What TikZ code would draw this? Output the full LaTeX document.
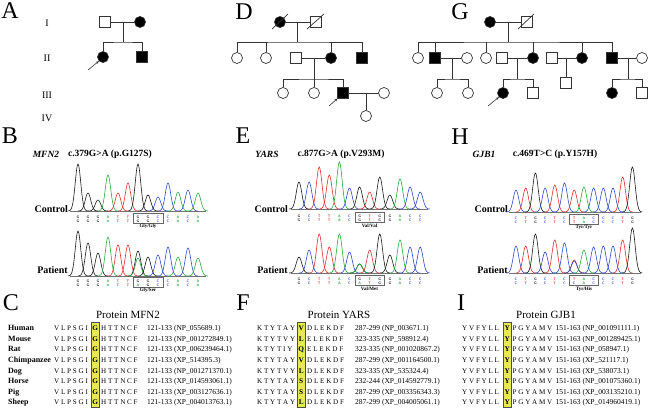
\documentclass[tikz,border=0pt]{standalone}
\usepackage{fontspec}
\setmainfont{Liberation Serif}
\usetikzlibrary{arrows.meta}
\definecolor{bG}{RGB}{25,25,25}
\definecolor{bA}{RGB}{40,170,60}
\definecolor{bT}{RGB}{225,45,45}
\definecolor{bC}{RGB}{45,75,200}
\definecolor{hl}{RGB}{232,232,85}
\tikzset{
 ped/.style={line width=0.7pt, draw=black!80},
 pm/.style={rectangle, draw=black!80, line width=0.7pt, minimum size=10.5pt, inner sep=0pt, fill=white},
 pf/.style={circle, draw=black!80, line width=0.7pt, minimum size=11pt, inner sep=0pt, fill=white},
 aff/.style={fill=black},
 plabel/.style={font=\fontsize{24}{24}\selectfont, inner sep=0pt},
 gen/.style={font=\fontsize{10}{10}\selectfont, inner sep=0pt},
 gname/.style={font=\fontsize{9.5}{10}\selectfont\bfseries\itshape, inner sep=0pt},
 mut/.style={font=\fontsize{9.5}{10}\selectfont\bfseries, inner sep=0pt},
 smp/.style={font=\fontsize{10}{10}\selectfont\bfseries, inner sep=0pt, anchor=east},
 trc/.style={line width=0.6pt, smooth, samples=27},
 bl/.style={font=\fontsize{3.6}{4}\sffamily\bfseries\selectfont, inner sep=0pt},
 aa/.style={font=\fontsize{5}{5}\selectfont\bfseries, inner sep=0pt},
 cbox/.style={draw=black!60, line width=0.5pt},
 prot/.style={font=\fontsize{11}{11}\selectfont, inner sep=0pt},
 spn/.style={font=\fontsize{8}{8}\selectfont\bfseries, inner sep=0pt, anchor=base west},
 sq/.style={font=\fontsize{7.1}{8}\selectfont, inner sep=0pt, anchor=base west},
 hlc/.style={font=\fontsize{7.3}{8}\selectfont\bfseries, inner sep=0pt, anchor=base},
 rng/.style={font=\fontsize{7.5}{8}\selectfont, inner sep=0pt, anchor=base west},
 hlbox/.style={fill=hl, draw=black!70, line width=0.5pt},
 parrow/.style={line width=0.6pt, draw=black!80, -{Stealth[length=3pt,width=2.6pt]}},
 baseln/.style={line width=0.5pt, draw=black!55},
}
\newcommand{\chromtrace}[4]{%
 \foreach \b/\i/\h in {#4}{\pgfmathsetmacro\px{#1+#2*\i}%
  \draw[trc,color=b\b] plot[domain=\px-10:\px+10] (\x,{#3-\h*exp(-((\x-\px)^2)/15)});}}
\newcommand{\baserow}[5]{%
 \foreach \b [count=\i from 0] in {#5}{\pgfmathsetmacro\px{#2+#3*\i}%
  \node[bl,text=b\b] (#1\i) at (\px,#4) {\b};}}
\begin{document}
\begin{tikzpicture}[x=1pt,y=-1pt]
\useasboundingbox (0,0) rectangle (650,415);
\fill[white] (0,0) rectangle (650,415);
% ---------- panel letters
\node[plabel] (LA) at (10,11) {A};
\node[plabel] (LD) at (244,12) {D};
\node[plabel] (LG) at (460,12) {G};
\node[plabel] (LB) at (10,136) {B};
\node[plabel] (LE) at (243,136) {E};
\node[plabel] (LH) at (460,137) {H};
\node[plabel] (LC) at (11,303) {C};
\node[plabel] (LF) at (243,303) {F};
\node[plabel] (LI) at (461,303) {I};
% generations
\node[gen] (g1l) at (47,23) {I};
\node[gen] (g2l) at (47,58) {II};
\node[gen] (g3l) at (47,95) {III};
\node[gen] (g4l) at (47,118) {IV};
% ---------- pedigree A
\node[pm] (a1) at (105,22) {};
\node[pf,aff] (a2) at (140,22) {};
\draw[ped] (a1) -- (a2);
\coordinate (am) at (123,22); \coordinate (as) at (123,42);
\draw[ped] (am) -- (as);
\node[pf,aff] (a3) at (103,57) {};
\node[pm,aff] (a4) at (142,57) {};
\draw[ped] (a3) |- (as) -| (a4);
\coordinate (aar) at (88,70);
\draw[parrow] (aar) -- (a3.south west);
% ---------- pedigree D
\node[pf,aff] (d1) at (280,22) {};
\node[pm] (d2) at (316,22) {};
\draw[ped] (d1) -- (d2);
\draw[ped] ([shift={(-8,7)}]d1.center) -- ([shift={(8,-8)}]d1.center);
\draw[ped] ([shift={(-9,7)}]d2.center) -- ([shift={(8,-8)}]d2.center);
\coordinate (dm1) at (297,22); \coordinate (ds1) at (297,42);
\draw[ped] (dm1) -- (ds1);
\node[pf] (d3) at (237,58) {};
\node[pf] (d4) at (266,58) {};
\node[pm] (d5) at (296,58) {};
\node[pf,aff] (d6) at (331,58) {};
\node[pm,aff] (d7) at (362,58) {};
\draw[ped] (d3) |- (ds1) -| (d7);
\draw[ped] (d4) -- (d4 |- ds1);
\draw[ped] (d6) -- (d6 |- ds1);
\draw[ped] (d5) -- (d6);
\coordinate (dm2) at (314,58); \coordinate (ds2) at (314,79);
\draw[ped] (dm2) -- (ds2);
\node[pf] (d8) at (283,93) {};
\node[pf] (d9) at (314,93) {};
\node[pm,aff] (d10) at (343,93) {};
\node[pf] (d11) at (384,93) {};
\draw[ped] (d8) |- (ds2) -| (d10);
\draw[ped] (d9) -- (ds2);
\draw[ped] (d10) -- (d11);
\coordinate (dm3) at (366,93);
\node[pf] (d12) at (366,116) {};
\draw[ped] (dm3) -- (d12);
\coordinate (dar) at (329,106);
\draw[parrow] (dar) -- (d10.south west);
% ---------- pedigree G
\node[pf,aff] (p1) at (490,22) {};
\node[pm] (p2) at (527,22) {};
\draw[ped] (p1) -- (p2);
\draw[ped] ([shift={(-9,7)}]p2.center) -- ([shift={(7,-8)}]p2.center);
\coordinate (gm1) at (508,22); \coordinate (gs1) at (508,42);
\draw[ped] (gm1) -- (gs1);
\node[pf] (p3) at (418,58) {};
\node[pm,aff] (p4) at (435,58) {};
\node[pf] (p5) at (467,58) {};
\node[pf] (p6) at (486,58) {};
\node[pm] (p7) at (502,58) {};
\node[pf,aff] (p8) at (533,58) {};
\node[pm] (p9) at (552,58) {};
\node[pf,aff] (p10) at (582,58) {};
\node[pm,aff] (p11) at (612,58) {};
\node[pf] (p12) at (642,58) {};
\draw[ped] (p3) |- (gs1) -| (p11);
\foreach \n in {p4,p6,p8,p10} \draw[ped] (\n) -- (\n |- gs1);
\draw[ped] (p4) -- (p5);
\draw[ped] (p7) -- (p8);
\draw[ped] (p9) -- (p10);
\draw[ped] (p11) -- (p12);
\coordinate (gm2) at (452,58); \coordinate (gs2) at (452,79);
\draw[ped] (gm2) -- (gs2);
\node[pf] (p13) at (437,93) {};
\node[pf] (p14) at (468,93) {};
\draw[ped] (p13) |- (gs2) -| (p14);
\coordinate (gm3) at (517,58); \coordinate (gs3) at (517,79);
\draw[ped] (gm3) -- (gs3);
\node[pf,aff] (p15) at (503,93) {};
\node[pm] (p16) at (533,93) {};
\draw[ped] (p15) |- (gs3) -| (p16);
\coordinate (gm4) at (566,58);
\node[pm] (p17) at (566,83) {};
\draw[ped] (gm4) -- (p17);
\coordinate (gm5) at (628,58); \coordinate (gs5) at (628,79);
\draw[ped] (gm5) -- (gs5);
\node[pf,aff] (p18) at (612,93) {};
\node[pm] (p19) at (642,93) {};
\draw[ped] (p18) |- (gs5) -| (p19);
\coordinate (gar) at (488,106);
\draw[parrow] (gar) -- (p15.south west);
% ---------- titles B E H
\node[gname] (tB1) at (46,154) {MFN2};
\node[mut] (tB2) at (110,154) {c.379G>A (p.G127S)};
\node[gname] (tE1) at (267,154) {YARS};
\node[mut] (tE2) at (341,154) {c.877G>A (p.V293M)};
\node[gname] (tH1) at (484,154) {GJB1};
\node[mut] (tH2) at (555,154) {c.469T>C (p.Y157H)};
% ---------- chromatograms B
\node[smp] (sB1) at (68,209) {Control};
\node[smp] (sB2) at (68,270) {Patient};
\draw[baseln] (70,211) -- (206,211);
\draw[baseln] (70,276) -- (206,276);
\chromtrace{78}{10}{211}{G/0/47,G/1/18,G/2/11,A/3/36,T/4/18,T/5/28,G/6/47,G/7/16,C/8/14,C/9/28,A/10/19,C/11/21,A/12/18}
\chromtrace{78}{10}{276}{G/0/45,G/1/33,G/2/23,A/3/39,T/4/31,T/5/31,G/6/25,A/6/18,G/7/19,C/8/21,C/9/29,A/10/19,C/11/28,A/12/18}
\baserow{bc1}{78}{10}{217}{G,G,G,A,T,T,G,G,C,C,A,C,A}
\baserow{bc2}{78}{10}{221}{G,G,G,A,T,T,G,G,C,C,A,C,A}
\baserow{bp1}{78}{10}{281}{G,G,G,A,T,T,G,G,C,C,A,C,A}
\baserow{bp2}{78}{10}{285}{G,G,G,A,T,T,A,G,C,C,A,C,A}
\draw[cbox] (133,213.5) rectangle (163,223.5);
\draw[cbox] (133,277.5) rectangle (163,287.5);
\node[aa] (bl1) at (148,226.5) {Gly/Gly};
\node[aa] (bl2) at (148,290.5) {Gly/Ser};
% ---------- chromatograms E
\node[smp] (sE1) at (288,209) {Control};
\node[smp] (sE2) at (288,270) {Patient};
\draw[baseln] (291,209) -- (428,209);
\draw[baseln] (291,273) -- (428,273);
\chromtrace{299}{10.1}{209}{G/0/27,C/1/27,T/2/42,T/3/34,A/4/47,C/5/21,G/6/22,T/7/17,G/8/32,G/9/14,A/10/30,C/11/22,C/12/17}
\chromtrace{299}{10.1}{273}{G/0/16,C/1/23,T/2/39,T/3/26,A/4/39,C/5/21,G/6/9,A/6/9,T/7/23,G/8/39,G/9/18,A/10/33,C/11/26,C/12/26}
\baserow{ec1}{299}{10.1}{216}{G,C,T,T,A,C,G,T,G,G,A,C,C}
\baserow{ec2}{299}{10.1}{220}{G,C,T,T,A,C,G,T,G,G,A,C,C}
\baserow{ep1}{299}{10.1}{279}{G,C,T,T,A,C,G,T,G,G,A,C,C}
\baserow{ep2}{299}{10.1}{283}{G,C,T,T,A,C,A,T,G,G,A,C,C}
\draw[cbox] (355,212.5) rectangle (384.5,222.5);
\draw[cbox] (355,275.5) rectangle (384.5,285.5);
\node[aa] (el1) at (369.5,225.5) {Val/Val};
\node[aa] (el2) at (369.5,289) {Val/Met};
% ---------- chromatograms H
\node[smp] (sH1) at (508,209) {Control};
\node[smp] (sH2) at (508,270) {Patient};
\draw[baseln] (509,212) -- (641,212);
\draw[baseln] (509,273) -- (641,273);
\chromtrace{516}{9.7}{212}{C/0/22,T/1/24,G/2/39,C/3/24,T/4/27,C/5/29,T/6/22,A/7/25,C/8/24,C/9/24,C/10/24,T/11/35,G/12/45}
\chromtrace{516}{9.7}{273}{C/0/27,T/1/27,G/2/39,C/3/21,T/4/33,C/5/30,T/6/13,C/6/12,A/7/23,C/8/26,C/9/27,C/10/27,T/11/33,G/12/45}
\baserow{hc1}{516}{9.7}{218}{C,T,G,C,T,C,T,A,C,C,C,T,G}
\baserow{hc2}{516}{9.7}{222}{C,T,G,C,T,C,T,A,C,C,C,T,G}
\baserow{hp1}{516}{9.7}{279}{C,T,G,C,T,C,T,A,C,C,C,T,G}
\baserow{hp2}{516}{9.7}{283}{C,T,G,C,T,C,C,A,C,C,C,T,G}
\draw[cbox] (569.5,214.5) rectangle (598.5,224.5);
\draw[cbox] (569.5,275.5) rectangle (598.5,285.5);
\node[aa] (hl1) at (584,227.5) {Tyr/Tyr};
\node[aa] (hl2) at (584,289) {Tyr/His};
% ---------- alignments
\node[prot] (pC) at (128,315) {Protein MFN2};
\node[prot] (pF) at (339,315) {Protein YARS};
\node[prot] (pI) at (546,315) {Protein GJB1};
\draw[hlbox] (91,322) rectangle (99.5,407);
\draw[hlbox] (297,322) rectangle (305.5,407);
\draw[hlbox] (503,322) rectangle (511.5,407);
\foreach \sp/\acc [count=\r from 0] in {Human/NP\_055689.1,Mouse/NP\_001272849.1,Rat/XP\_006239464.1,Chimpanzee/XP\_514395.3,Dog/NP\_001271370.1,Horse/XP\_014593061.1,Pig/XP\_003127636.1,Sheep/XP\_004013763.1}{%
 \pgfmathsetmacro\yy{330.6+10.6*\r}
 \node[spn] (csp\r) at (8,\yy) {\sp};
 \node[sq] (cpre\r) at (54,\yy) {V L P S G I};
 \node[hlc] (chl\r) at (95.2,\yy) {G};
 \node[sq] (cpost\r) at (101,\yy) {H T T N C F};
 \node[rng] (crng\r) at (147,\yy) {121-133 (\acc)};
}
\foreach \pre/\hh/\post/\rg/\acc [count=\r from 0] in {%
 K T Y T A Y/V/D L E K D F/287-299/NP\_003671.1,
 K T Y T V Y/L/E L E K D F/323-335/NP\_598912.4,
 K T Y T I Y/Q/E L E K D F/323-335/NP\_001020867.2,
 K T Y T A Y/V/D L E K D F/287-299/XP\_001164500.1,
 K T Y T V Y/L/D L E K D F/323-335/XP\_535324.4,
 K T Y T A Y/S/D L E K D F/232-244/XP\_014592779.1,
 K T Y T A Y/S/D L E K D F/287-299/XP\_003356343.3,
 K T Y T A Y/L/D L E K D F/287-299/XP\_004005061.1}{%
 \pgfmathsetmacro\yy{330.6+10.6*\r}
 \node[sq] (fpre\r) at (257,\yy) {\pre};
 \node[hlc] (fhl\r) at (301.2,\yy) {\hh};
 \node[sq] (fpost\r) at (307,\yy) {\post};
 \node[rng] (frng\r) at (355,\yy) {\rg{} (\acc)};
}
\foreach \acc [count=\r from 0] in {NP\_001091111.1,NP\_001289425.1,NP\_058947.1,XP\_521117.1,XP\_538073.1,NP\_001075360.1,XP\_003135210.1,XP\_014960419.1}{%
 \pgfmathsetmacro\yy{330.6+10.6*\r}
 \node[sq] (ipre\r) at (462,\yy) {Y V F Y L L};
 \node[hlc] (ihl\r) at (507.2,\yy) {Y};
 \node[sq] (ipost\r) at (512.5,\yy) {P G Y A M V};
 \node[rng] (irng\r) at (555.5,\yy) {151-163 (\acc)};
}
\end{tikzpicture}
\end{document}
